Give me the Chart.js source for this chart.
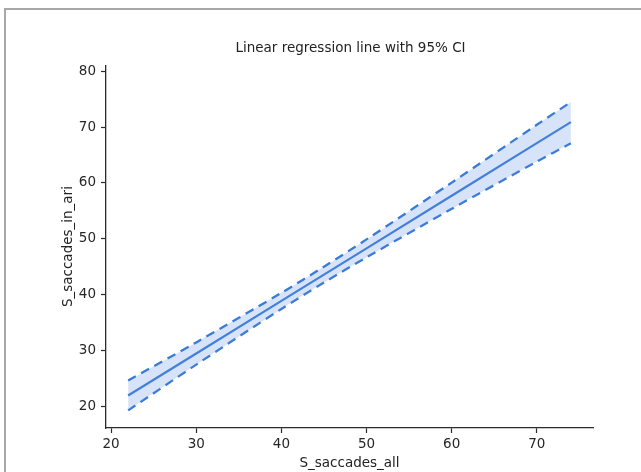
<!DOCTYPE html>
<html>
<head>
<meta charset="utf-8">
<script src="https://cdn.jsdelivr.net/npm/chart.js@4.4.0/dist/chart.umd.min.js"></script>
<style>
  html, body { margin: 0; padding: 0; background: #fff; overflow: hidden; }
  .edge { position: absolute; background: #a8a8a8; }
  #edgeTop { left: 4px; top: 8px; width: 637px; height: 2px; }
  #edgeLeft { left: 4px; top: 8px; width: 2px; height: 464px; }
  #wrap { position: absolute; left: 0; top: 0; width: 641px; height: 472px; }
</style>
</head>
<body>
<div class="edge" id="edgeTop"></div>
<div class="edge" id="edgeLeft"></div>
<div id="wrap"><canvas id="regChart" width="641" height="472"></canvas></div>
<script>
// valores
const xVals = [22, 30, 40, 45, 50, 60, 70, 74];
const fitVals = [21.92, 29.45, 38.87, 43.58, 48.29, 57.71, 67.13, 70.9];
const upperVals = [24.62, 31.44, 40.31, 45.0, 49.89, 60.06, 70.42, 74.5];
const lowerVals = [19.25, 27.46, 37.43, 42.16, 46.69, 55.36, 63.84, 67.1];
const xTicks = [20, 30, 40, 50, 60, 70];
const yTicks = [20, 30, 40, 50, 60, 70, 80];

const blue = '#3a7bd8';
const axisColor = '#2b2b2b';
const font = { family: 'DejaVu Sans', size: 13.5, weight: 'normal' };

const pts = arr => xVals.map((x, i) => ({ x: x, y: arr[i] }));

const ctx = document.getElementById('regChart');

new Chart(ctx, {
  type: 'line',
  data: {
    datasets: [
      {
        label: 'upper',
        data: pts(upperVals),
        borderColor: blue,
        borderWidth: 2.3,
        borderDash: [9, 6],
        backgroundColor: 'rgba(95,145,228,0.25)',
        fill: 2,
        pointRadius: 0,
        tension: 0.3
      },
      {
        label: 'fit',
        data: pts(fitVals),
        borderColor: blue,
        borderWidth: 2.2,
        fill: false,
        pointRadius: 0
      },
      {
        label: 'lower',
        data: pts(lowerVals),
        borderColor: blue,
        borderWidth: 2.3,
        borderDash: [9, 6],
        fill: false,
        pointRadius: 0,
        tension: 0.3
      }
    ]
  },
  options: {
    responsive: false,
    animation: false,
    layout: { padding: { left: 60, right: 0, top: 0, bottom: 0 } },
    plugins: {
      legend: { display: false },
      tooltip: { enabled: false },
      title: {
        display: true,
        text: 'Linear regression line with 95% CI',
        color: '#222',
        font: font,
        padding: { top: 40, bottom: 9 }
      }
    },
    scales: {
      x: {
        type: 'linear',
        min: 19.4,
        max: 76.6,
        afterBuildTicks: s => { s.ticks = xTicks.map(v => ({ value: v })); },
        afterFit: s => { s.height = 472 - 428; },
        ticks: { color: '#262626', font: font, padding: 3, maxRotation: 0 },
        grid: { drawOnChartArea: false, drawTicks: true, tickLength: 5, color: axisColor, tickWidth: 1.2 },
        border: { display: true, color: axisColor, width: 1.3 },
        title: { display: true, text: 'S_saccades_all', color: '#222', font: font, padding: { top: 0, bottom: 0 } }
      },
      y: {
        type: 'linear',
        min: 16.1,
        max: 81.1,
        afterBuildTicks: s => { s.ticks = yTicks.map(v => ({ value: v })); },
        afterFit: s => { s.width = 46; },
        ticks: { color: '#262626', font: font, padding: 5 },
        grid: { drawOnChartArea: false, drawTicks: true, tickLength: 5, color: axisColor, tickWidth: 1.2 },
        border: { display: true, color: axisColor, width: 1.3 },
        title: { display: true, text: 'S_saccades_in_ari', color: '#222', font: font, padding: 0 }
      },
      // eixo vazio à direita, só para reservar o espaço
      yRight: {
        type: 'linear',
        position: 'right',
        display: true,
        afterFit: s => { s.width = 48; },
        ticks: { display: false },
        grid: { display: false },
        border: { display: false }
      }
    }
  }
});
</script>
</body>
</html>
